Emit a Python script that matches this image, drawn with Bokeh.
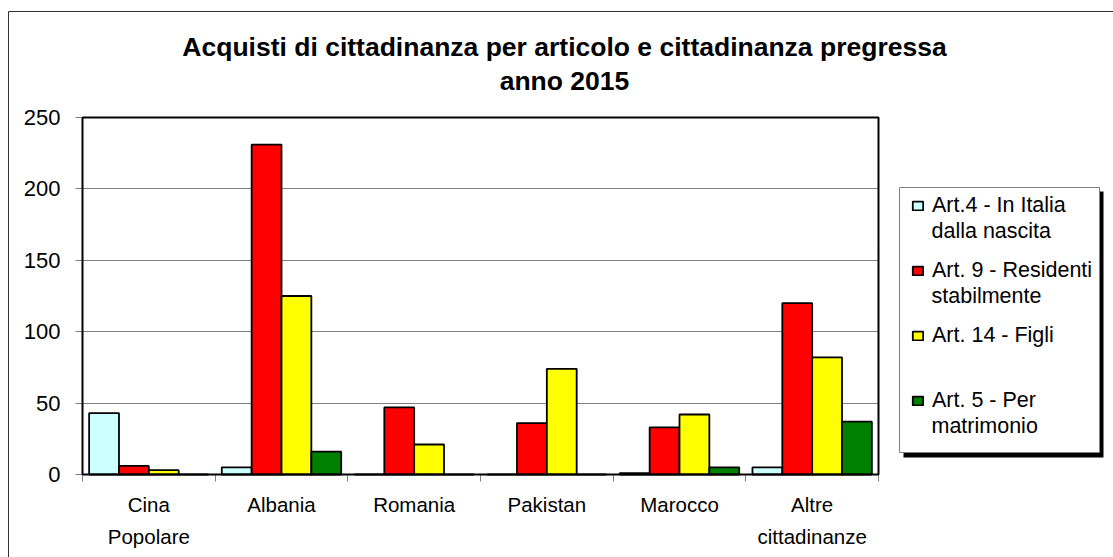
from bokeh.plotting import figure
from bokeh.models import (ColumnDataSource, Range1d, BoxAnnotation, Label, Grid,
                          Legend, LegendItem, LinearAxis, FixedTicker)
from bokeh.transform import dodge
from bokeh.embed import file_html
from bokeh.resources import INLINE

# ---- data ----
categories = ["Cina Popolare", "Albania", "Romania", "Pakistan", "Marocco", "Altre cittadinanze"]
label_line1 = ["Cina", "Albania", "Romania", "Pakistan", "Marocco", "Altre"]
label_line2 = ["Popolare", "", "", "", "", "cittadinanze"]
series_keys = ["art4", "art9", "art14", "art5"]
legend_line1 = ["Art.4 - In Italia", "Art. 9 - Residenti", "Art. 14 - Figli", "Art. 5 - Per"]
legend_line2 = ["dalla nascita", "stabilmente", "", "matrimonio"]
art4 = [43, 5, 0, 0, 1, 5]
art9 = [6, 231, 47, 36, 33, 120]
art14 = [3, 125, 21, 74, 42, 82]
art5 = [0, 16, 0, 0, 5, 37]
colors = ["#CCFFFF", "#FF0000", "#FFFF00", "#008000"]
y_ticks = [0, 50, 100, 150, 200, 250]
title_lines = ["Acquisti di cittadinanza per articolo e cittadinanza pregressa", "anno 2015"]

FONT = "Liberation Sans"

# ---- layout (pixels) ----
W, H = 1113, 557
PL, PR, PT, PB = 82, 878, 117, 474      # plot area box on the canvas
n = len(categories)
ymax = max(y_ticks)
xpu = (PR - PL) / n
ypu = (PB - PT) / ymax
x_range = Range1d(-PL / xpu, n + (W - PR) / xpu)
y_range = Range1d(-(H - PB) / ypu, ymax + PT / ypu)

centers = [i + 0.5 for i in range(n)]
source = ColumnDataSource(dict(x=centers, cat=categories, art4=art4, art9=art9, art14=art14, art5=art5))

p = figure(x_range=x_range, y_range=y_range, width=W, height=H,
           output_backend="svg", toolbar_location=None,
           x_axis_location=None, y_axis_location=None, min_border=0)
p.background_fill_color = "white"
p.border_fill_color = "white"
p.outline_line_color = None
p.xgrid.grid_line_color = None
p.ygrid.grid_line_color = None

def box(**kw):
    base = dict(fill_color=None, fill_alpha=0, line_alpha=1, line_dash="solid",
                line_color="black", line_width=1)
    base.update(kw)
    return BoxAnnotation(**base)

SCREEN = dict(left_units="screen", right_units="screen", top_units="screen", bottom_units="screen")

# y axis at the left edge of the plot area
yax = LinearAxis(ticker=FixedTicker(ticks=y_ticks), fixed_location=0, bounds=(0, ymax))
yax.major_tick_out = 7
yax.major_tick_in = 0
yax.minor_tick_line_color = None
yax.major_tick_line_color = "#808080"
yax.axis_line_color = None
yax.major_label_text_font = FONT
yax.major_label_text_font_size = "22px"
yax.major_label_text_color = "black"
yax.major_label_standoff = 15
p.add_layout(yax, "left")

grid = Grid(dimension=1, ticker=FixedTicker(ticks=y_ticks), grid_line_color="#808080",
            grid_line_width=1, cross_bounds=(0, n))
p.add_layout(grid)

# bars
bar_w = 0.225
offsets = [-1.5 * bar_w, -0.5 * bar_w, 0.5 * bar_w, 1.5 * bar_w]
renderers = []
for key, off, col in zip(series_keys, offsets, colors):
    r = p.vbar(x=dodge("x", off), top=key, width=bar_w, bottom=0,
               source=source, fill_color=col, line_color="black", line_width=1.8)
    renderers.append(r)

# x axes: boundary ticks + two lines of category labels
tax = LinearAxis(ticker=FixedTicker(ticks=list(range(n + 1))), fixed_location=0, bounds=(0, n))
tax.major_label_text_font_size = "0px"
tax.major_label_text_alpha = 0
tax.major_tick_out = 7
tax.major_tick_in = 0
tax.minor_tick_line_color = None
tax.major_tick_line_color = "#808080"
tax.axis_line_color = None
p.add_layout(tax, "below")

for labels, standoff in ((label_line1, 18), (label_line2, 50)):
    ax = LinearAxis(ticker=FixedTicker(ticks=centers), fixed_location=0)
    ax.major_label_overrides = {c: l for c, l in zip(centers, labels)}
    ax.major_tick_line_color = None
    ax.major_tick_out = 0
    ax.minor_tick_line_color = None
    ax.axis_line_color = None
    ax.major_label_text_font = FONT
    ax.major_label_text_font_size = "20.5px"
    ax.major_label_text_color = "black"
    ax.major_label_standoff = standoff
    p.add_layout(ax, "below")

# plot area border
p.add_layout(box(left=0, right=n, bottom=0, top=ymax, line_width=2))

# outer chart border
p.add_layout(box(left=8, right=W + 50, top=H - 11, bottom=-50,
                 line_color="#333333", **SCREEN))

# legend box with shadow
LB_L, LB_R, LB_T, LB_B = 899, 1099, 187, 452
p.add_layout(box(left=LB_L + 4, right=LB_R + 4, top=H - LB_T - 4, bottom=H - LB_B - 5,
                 fill_color="black", fill_alpha=1, line_color=None, **SCREEN))
p.add_layout(box(left=LB_L, right=LB_R, top=H - LB_T, bottom=H - LB_B,
                 fill_color="white", fill_alpha=1, line_color="#808080", **SCREEN))

ROW0, STEP, ITEM_H, GAP = 204, 65, 26, 27   # first-line centres, item step, item height, 2nd-line gap
legend = Legend(items=[LegendItem(label=nm, renderers=[r]) for nm, r in zip(legend_line1, renderers)],
                location=(911, H - (ROW0 + 3 * STEP + ITEM_H // 2) - 1), margin=0, padding=13,
                spacing=STEP - ITEM_H, label_height=ITEM_H,
                glyph_width=13, glyph_height=11, label_standoff=8,
                background_fill_alpha=0, border_line_color=None,
                label_text_font=FONT, label_text_font_size="21.5px", label_text_color="black")
p.add_layout(legend, "center")

for i, txt in enumerate(legend_line2):
    if txt:
        p.add_layout(Label(x=931, y=H - (ROW0 + i * STEP + GAP) + 1, x_units="screen", y_units="screen",
                           text=txt, text_align="left", text_baseline="middle", text_font=FONT,
                           text_font_size="21.5px", text_color="black"))

# title
for txt, base in zip(title_lines, (46, 80)):
    p.add_layout(Label(x=564, y=H - base, x_units="screen", y_units="screen", text=txt,
                       text_align="center", text_baseline="alphabetic", text_font=FONT,
                       text_font_style="bold", text_font_size="26.5px", text_color="black"))

open("out.html", "w").write(file_html(p, INLINE))
